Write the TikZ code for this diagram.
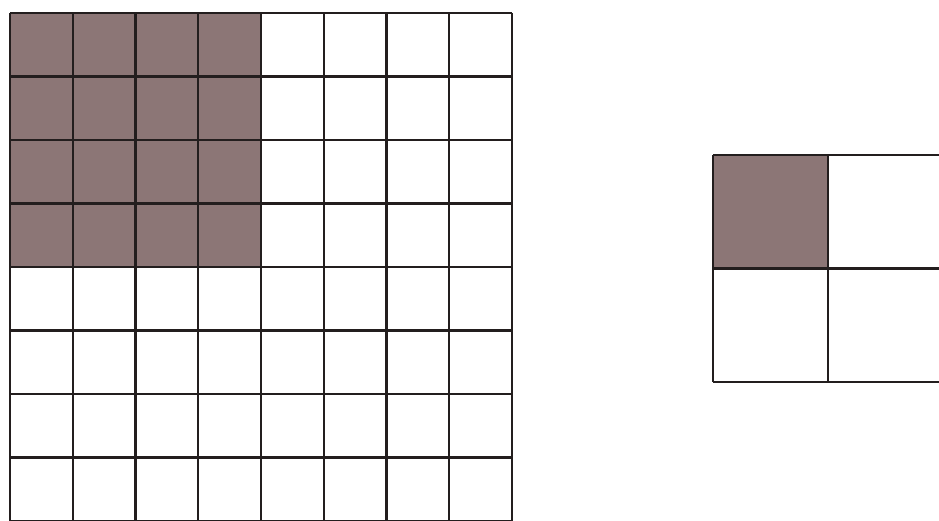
\documentclass[tikz,border=0pt]{standalone}
\definecolor{cellfill}{RGB}{140,118,118}
\definecolor{gridline}{RGB}{35,30,30}
\tikzset{gridlines/.style={draw=gridline,line width=2.4pt}}
\begin{document}
\begin{tikzpicture}[x=1pt,y=-1pt]
\useasboundingbox (0,0) rectangle (939,521);
\clip (0,0) rectangle (939,521);
\fill[white] (0,0) rectangle (939,521);
% left grid 8x8
\fill[cellfill] (10,13) rectangle (261,267);
\foreach \i in {0,...,8} {
  \draw[gridlines] ({10+\i*62.75},13) -- ({10+\i*62.75},525);
  \draw[gridlines] (10,{13+\i*63.5}) -- (512,{13+\i*63.5});
}
% right grid 2x2
\fill[cellfill] (713,155) rectangle (828,268);
\foreach \i in {0,1,2} {
  \draw[gridlines] ({713+\i*115},155) -- ({713+\i*115},382);
  \draw[gridlines] (713,{155+\i*113.5}) -- (943,{155+\i*113.5});
}
\end{tikzpicture}
\end{document}
